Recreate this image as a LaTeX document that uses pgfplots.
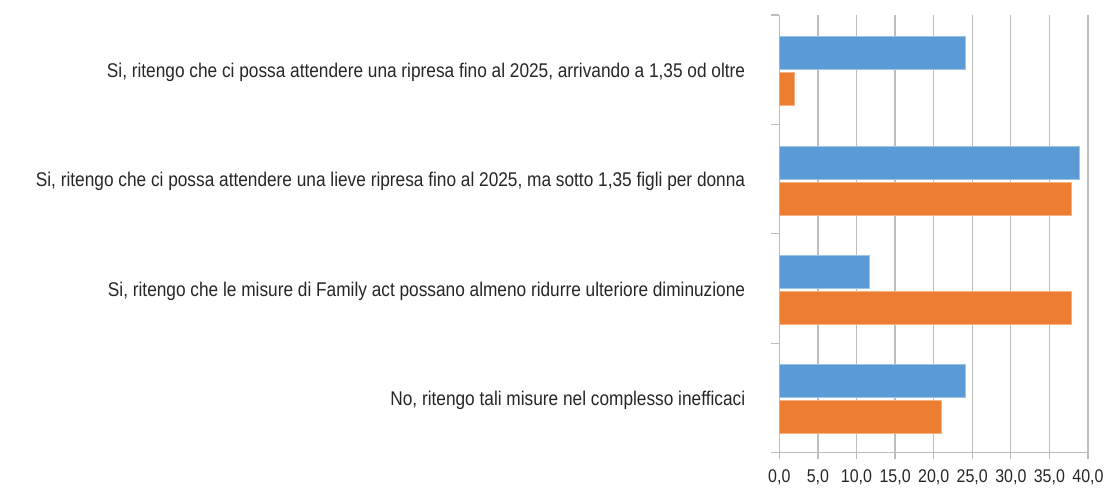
\documentclass[border=0pt]{standalone}
\usepackage{pgfplots}
\pgfplotsset{compat=1.18}
\usepackage{fontspec}
\setmainfont{Liberation Sans}[FakeStretch=0.87]

\definecolor{serieA}{HTML}{5B9BD5}
\definecolor{serieB}{HTML}{ED7D31}
\definecolor{griglia}{HTML}{BDBDBD}
\definecolor{testo}{HTML}{262626}

\begin{document}
\begin{tikzpicture}
  \begin{axis}[
      scale only axis, width=231.75pt, height=328.5pt,
      xbar, xmin=0, xmax=40, ymin=-0.5, ymax=3.5,
      axis lines*=left, tick align=outside,
      axis line style={griglia, line width=0.9pt},
      xtick={0,5,...,40}, xmajorgrids,
      grid style={griglia, line width=0.9pt},
      major tick length=5.25pt, minor tick length=6pt,
      tick style={griglia, line width=0.9pt},
      ytick={0,1,2,3},
      major y tick style={draw=none},
      minor ytick={-0.5,0.5,1.5,2.5,3.5},
      yticklabels={
        {No, ritengo tali misure nel complesso inefficaci},
        {Si, ritengo che le misure di Family act possano almeno ridurre ulteriore diminuzione},
        {Si, ritengo che ci possa attendere una lieve ripresa fino al 2025, ma sotto 1,35 figli per donna},
        {Si, ritengo che ci possa attendere una ripresa fino al 2025, arrivando a 1,35 od oltre}},
      yticklabel style={font=\fontsize{14.9pt}{16pt}\selectfont, text=testo,
        anchor=east, inner sep=0pt, xshift=-20.25pt, yshift=-1.9pt},
      xticklabel style={font=\fontsize{13.8pt}{15pt}\selectfont, text=testo, yshift=-3.75pt},
      /pgf/number format/.cd, fixed, fixed zerofill, precision=1, use comma,
      assume math mode=true,
    ]
    \addplot[fill=serieB, draw=serieB!60!white, line width=0.6pt, bar width=24.75pt, bar shift=-14.6pt]
      coordinates {(21.0,0) (37.9,1) (37.9,2) (2.0,3)};
    \addplot[fill=serieA, draw=serieA!60!white, line width=0.6pt, bar width=24.75pt, bar shift=12.4pt]
      coordinates {(24.1,0) (11.7,1) (38.9,2) (24.1,3)};
    \coordinate (origine) at (rel axis cs:0,0);
  \end{axis}
  \path[use as bounding box] (origine) ++(-585.2pt,-25.5pt) rectangle ++(831pt,365.25pt);
\end{tikzpicture}
\end{document}
